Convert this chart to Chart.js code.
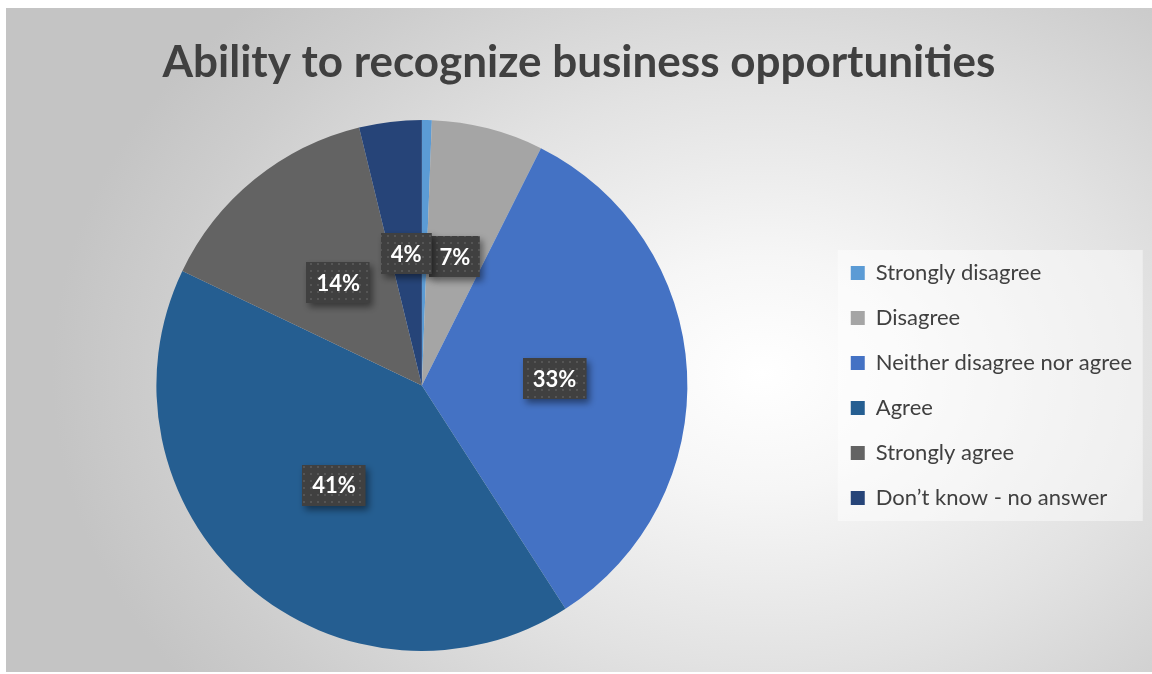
<!DOCTYPE html>
<html lang="en">
<head>
  <meta charset="UTF-8" />
  <title>Ability to recognize business opportunities</title>
  <script src="https://cdn.jsdelivr.net/npm/chart.js"></script>
  <style>
    html, body {
      margin: 0;
      padding: 0;
      background: #ffffff;
      width: 1152px;
      height: 674px;
      overflow: hidden;
    }
    .frame {
      position: absolute;
      left: 6px;
      top: 8px;
      width: 1146px;
      height: 664px;
      background: radial-gradient(ellipse 62% 80% at 66% 55%, #ffffff 0%, #f6f6f6 22%, #e2e2e2 55%, #cdcdcd 85%, #c4c4c4 100%);
    }
  </style>
</head>
<body>
  <div class="frame">
    <canvas id="pieChart" width="1146" height="664"></canvas>
  </div>

  <script>
    const categories = ['Strongly disagree', 'Disagree', 'Neither disagree nor agree', 'Agree', 'Strongly agree', 'Don\u2019t know - no answer'];
    const shares = [0.6, 6.8, 33.5, 41.2, 14.1, 3.8];
    const shownLabels = ['', '7%', '33%', '41%', '14%', '4%'];
    const sliceColors = ['#5B9BD5', '#A5A5A5', '#4472C4', '#255E91', '#636363', '#264478'];

    const FONT = 'Lato, "Open Sans", sans-serif';

    // dotted dark fill for the value boxes
    function makeDotPattern(ctx) {
      const c = document.createElement('canvas');
      c.width = 7; c.height = 7;
      const p = c.getContext('2d');
      p.fillStyle = '#404040';
      p.fillRect(0, 0, 7, 7);
      p.fillStyle = '#555555';
      p.fillRect(3, 3, 2, 2);
      return ctx.createPattern(c, 'repeat');
    }

    const legendPanel = {
      id: 'legendPanel',
      beforeDraw(chart) {
        const lg = chart.legend;
        if (!lg || !lg.legendHitBoxes || !lg.legendHitBoxes.length) return;
        const hb = lg.legendHitBoxes;
        const ctx = chart.ctx;
        const left = hb[0].left - 13;
        const top = hb[0].top - 12;
        const last = hb[hb.length - 1];
        const bottom = last.top + last.height + 12;
        ctx.save();
        ctx.fillStyle = 'rgba(255,255,255,0.45)';
        ctx.fillRect(left, top, 305, bottom - top);
        ctx.restore();
      }
    };

    const valueBoxes = {
      id: 'valueBoxes',
      afterDatasetsDraw(chart) {
        const ctx = chart.ctx;
        const meta = chart.getDatasetMeta(0);
        const pattern = makeDotPattern(ctx);
        ctx.save();
        ctx.font = 'bold 22px ' + FONT;
        meta.data.forEach((arc, i) => {
          const txt = shownLabels[i];
          if (!txt) return;
          const pos = arc.tooltipPosition();
          const w = ctx.measureText(txt).width + 20;
          const h = 41;
          const x = Math.round(pos.x - w / 2);
          const y = Math.round(pos.y - h / 2);
          ctx.save();
          ctx.shadowColor = 'rgba(0,0,0,0.45)';
          ctx.shadowBlur = 7;
          ctx.shadowOffsetX = 3;
          ctx.shadowOffsetY = 4;
          ctx.fillStyle = pattern;
          ctx.fillRect(x, y, w, h);
          ctx.restore();
          ctx.fillStyle = '#ffffff';
          ctx.textAlign = 'center';
          ctx.textBaseline = 'middle';
          ctx.fillText(txt, pos.x, pos.y + 1);
        });
        ctx.restore();
      }
    };

    const ctx = document.getElementById('pieChart').getContext('2d');
    new Chart(ctx, {
      type: 'pie',
      data: {
        labels: categories,
        datasets: [{
          data: shares,
          backgroundColor: sliceColors,
          borderWidth: 0
        }]
      },
      options: {
        responsive: false,
        animation: false,
        layout: {
          padding: { left: 10, right: 10, top: 0, bottom: 21 }
        },
        plugins: {
          title: {
            display: true,
            text: 'Ability to recognize business opportunities',
            color: '#404040',
            font: { family: FONT, size: 44, weight: 'bold' },
            padding: { top: 28, bottom: 31.2 }
          },
          legend: {
            position: 'right',
            fullSize: false,
            labels: {
              color: '#404040',
              font: { family: FONT, size: 22 },
              boxWidth: 14,
              boxHeight: 14,
              padding: 23
            }
          },
          tooltip: { enabled: false }
        }
      },
      plugins: [legendPanel, valueBoxes]
    });
  </script>
</body>
</html>
